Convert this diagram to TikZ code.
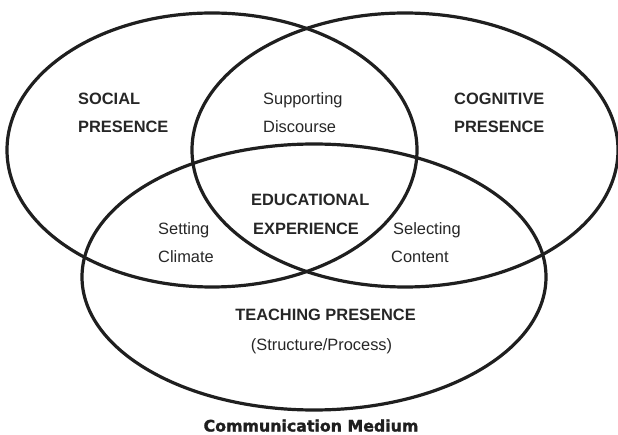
\documentclass[tikz,border=0pt]{standalone}
\usepackage{fontspec}
\setmainfont{Liberation Sans}
\newfontfamily\heavyfont[BoldFeatures={FakeBold=1.6}]{DejaVu Sans}
\usepackage{tikz}
\tikzset{
	venn/.style={line width=3.2pt, color=black!88},
	lab/.style={anchor=base west, inner sep=0pt, color=black!85, font=\fontsize{16.4}{19}\selectfont},
	labb/.style={lab, font=\fontsize{16.4}{19}\selectfont\bfseries},
	medium/.style={anchor=base, inner sep=0pt, color=black!88, font=\fontsize{15.8}{19}\selectfont\heavyfont\bfseries}
}

\begin{document}
\begin{tikzpicture}[x=1pt, y=-1pt]
			%%%%% START %%%%%
			\useasboundingbox (0, 0) rectangle (618, 435);
			
			\draw[venn] (212, 150) ellipse (205 and 137);
			\draw[venn] (405, 150) ellipse (213 and 137);
			\draw[venn] (314, 277) ellipse (232 and 133);
			
			\node[labb] (social) at (78, 105) {SOCIAL};
			\node[labb] (socialb) at (78, 133) {PRESENCE};
			
			\node[lab] (support) at (263, 105) {Supporting};
			\node[lab] (discourse) at (263, 133) {Discourse};
			
			\node[labb] (cognitive) at (454, 105) {COGNITIVE};
			\node[labb] (cognitiveb) at (454, 133) {PRESENCE};
			
			\node[labb] (edu) at (251, 206) {EDUCATIONAL};
			\node[labb] (exp) at (253, 234.5) {EXPERIENCE};
			
			\node[lab] (setting) at (158, 235) {Setting};
			\node[lab] (climate) at (158, 263) {Climate};
			
			\node[lab] (selecting) at (393, 235) {Selecting};
			\node[lab] (content) at (391, 263) {Content};
			
			\node[labb, anchor=base] (teaching) at (325.5, 321) {TEACHING PRESENCE};
			\node[lab, anchor=base] (structure) at (321.5, 350) {(Structure/Process)};
			
			\node[medium] (comm) at (311, 431.5) {Communication Medium};
			%%%%% END %%%%%
\end{tikzpicture}
\end{document}
